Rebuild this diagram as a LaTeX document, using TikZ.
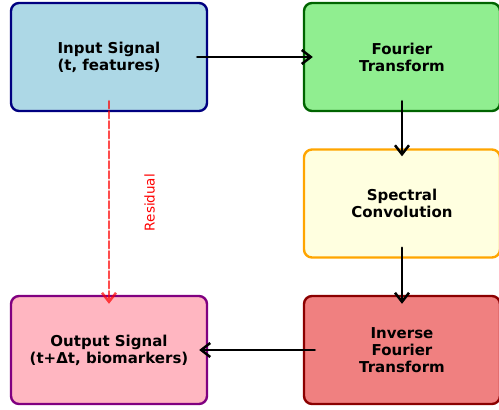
\documentclass[tikz,border=0pt]{standalone}
\usepackage{fontspec}
\setmainfont{DejaVu Sans}
\usetikzlibrary{arrows.meta}
\definecolor{lblue}{HTML}{ADD8E6}
\definecolor{lgreen}{HTML}{90EE90}
\definecolor{lyellow}{HTML}{FFFFE0}
\definecolor{lcoral}{HTML}{F08080}
\definecolor{lpink}{HTML}{FFB6C1}
\definecolor{dgreen}{HTML}{006400}
\definecolor{dred}{HTML}{8B0000}
\definecolor{dpurple}{HTML}{800080}
\definecolor{dorange}{HTML}{FFA500}
\begin{document}
\begin{tikzpicture}[x=1pt,y=-1pt,>={Straight Barb[length=9pt,width=14pt]},line join=round,line cap=round,
	box/.style={draw,line width=2.4pt,rounded corners=8pt,minimum width=196pt,minimum height=108pt,align=center,
		font=\fontsize{15}{17}\selectfont\bfseries,inner sep=0pt},
	flow/.style={->,line width=2.5pt}]
			\useasboundingbox (0,0) rectangle (499,410);
			\clip (0,0) rectangle (499,410);
			
			\node[box,fill=lblue,draw=blue!50!black] (inp) at (109,57) {Input Signal\\(t, features)};
			\node[box,fill=lgreen,draw=dgreen] (ft) at (402,57) {Fourier\\Transform};
			\node[box,fill=lyellow,draw=dorange] (sc) at (402,203.5) {Spectral\\Convolution};
			\node[box,fill=lcoral,draw=dred] (ift) at (402,350) {Inverse\\Fourier\\Transform};
			\node[box,fill=lpink,draw=dpurple] (out) at (109,350) {Output Signal\\(t+Δt, biomarkers)};
			
			\draw[flow] ([xshift=-11pt]inp.east)--([xshift=10pt]ft.west);
			\draw[flow] ([yshift=11pt]ft.south)--([yshift=-8pt]sc.north);
			\draw[flow] ([yshift=11pt]sc.south)--([yshift=-9pt]ift.north);
			\draw[flow] ([xshift=12pt]ift.west)--([xshift=-9pt]out.east);
			
			\draw[flow,red,opacity=0.7,dash pattern=on 7pt off 3pt] ([yshift=11pt]inp.south)--([yshift=-9pt]out.north)
				node[midway,xshift=40.5pt,rotate=90,red,opacity=1,font=\fontsize{13.5}{15}\selectfont]{Residual};
		\end{tikzpicture}
\end{document}
